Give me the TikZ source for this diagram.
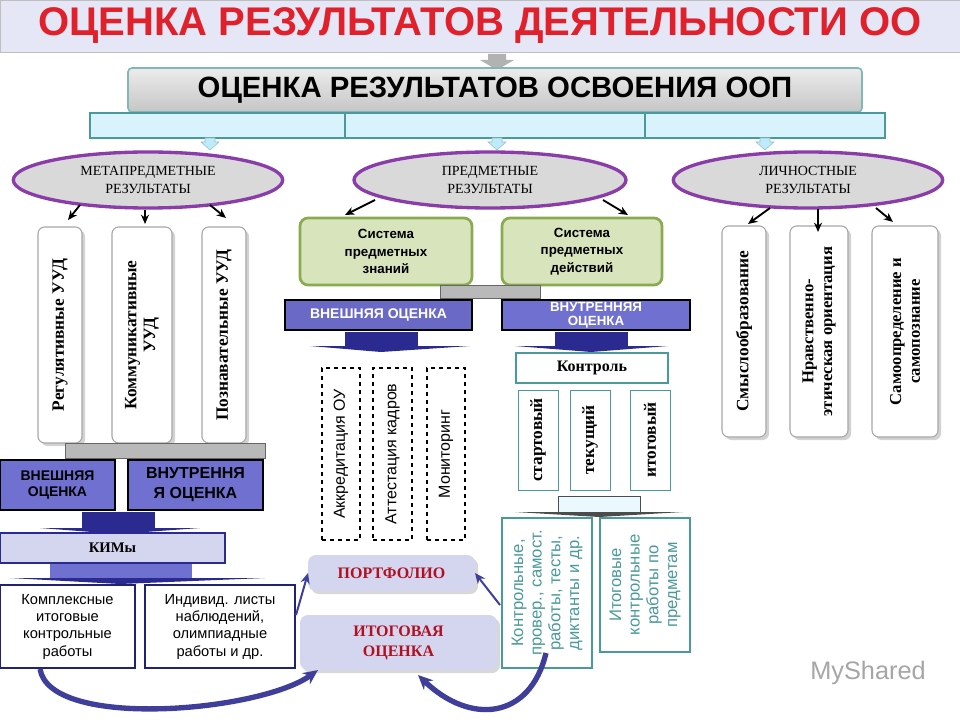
\documentclass[tikz,border=0pt]{standalone}
\usepackage{fontspec}
\setmainfont{Liberation Serif}
\newfontfamily\ar{Liberation Sans}
\usetikzlibrary{arrows.meta,shadows,shapes.geometric}
\definecolor{tred}{HTML}{E0202A}
\definecolor{tealb}{HTML}{4A9A9A}
\definecolor{midb}{HTML}{7070D0}
\definecolor{darkb}{HTML}{2A2A90}
\definecolor{lav}{HTML}{D4D6F0}
\definecolor{gfill}{HTML}{D8E4BC}
\definecolor{gedge}{HTML}{8AAA50}
\definecolor{purp}{HTML}{8A3DA8}
\definecolor{maroon}{HTML}{B01020}
\newcommand\bx[7]{\pgfmathsetmacro\bxcx{(#2+#4)/2}\pgfmathsetmacro\bxcy{(#3+#5)/2}\pgfmathsetmacro\bxw{(#4-#2)*0.75}\pgfmathsetmacro\bxh{(#5-#3)*0.75}\node[#6,minimum width=\bxw pt,minimum height=\bxh pt] (#1) at (\bxcx,\bxcy) {#7};}
\tikzset{
 base/.style={inner sep=0pt,outer sep=0pt,align=center},
 vtext/.style={rotate=90,align=center,inner sep=0pt,font=\bfseries\fontsize{13}{14}\selectfont},
 vbox/.style={base,draw=gray!70,fill=white,rounded corners=5pt,line width=0.8pt,drop shadow={opacity=0.35}},
 blu/.style={base,draw=black,fill=midb,line width=1pt,font=\ar\bfseries\fontsize{10.5}{12}\selectfont},
 dbar/.style={base,fill=darkb},
 gbar/.style={base,fill=gray!55,draw=black!60},
 wbox/.style={base,draw=darkb!80!black,fill=white,line width=1.5pt,font=\ar\fontsize{11}{13}\selectfont},
 gr/.style={base,draw=gedge,fill=gfill,line width=2pt,rounded corners=6pt,font=\ar\bfseries\fontsize{10}{13}\selectfont},
 ell/.style={ellipse,draw=purp,line width=2.5pt,fill=gray!30,inner sep=0pt,align=center,font=\fontsize{10.5}{13}\selectfont},
 dbox/.style={base,draw=black,dashed,line width=0.8pt},
 tbox/.style={base,draw=tealb,line width=0.6pt,fill=white},
 lavb/.style={base,fill=lav,rounded corners=6pt,drop shadow={opacity=0.3},font=\bfseries\fontsize{12}{15}\selectfont,text=maroon},
 ar1/.style={-{Stealth[length=7pt,width=6pt]},line width=1.4pt},
 ar3/.style={-{Stealth[length=8pt,width=7pt]},line width=1.5pt,draw=darkb!90},
 ar2/.style={-{Stealth[length=11pt,width=10pt]},line width=4pt,draw=darkb!90},
}
\begin{document}
\begin{tikzpicture}[x=0.75pt,y=-0.75pt]
\useasboundingbox (0,0) rectangle (960,720);
\fill[white] (0,0) rectangle (960,720);
\bx{title}{0}{0}{960}{52}{base,fill=lav!60,draw=gray!50,font=\ar\bfseries\fontsize{30}{32}\selectfont,text=tred}{ОЦЕНКА РЕЗУЛЬТАТОВ ДЕЯТЕЛЬНОСТИ ОО}
\fill[gray!60] (488,54) -- (506,54) -- (506,60) -- (514,60) -- (497,70) -- (480,60) -- (488,60) -- cycle;
\bx{oop}{128}{68}{862}{112}{base,draw=tealb!70,line width=1.2pt,top color=gray!15,bottom color=gray!45,rounded corners=3pt,font=\ar\bfseries\fontsize{22}{24}\selectfont}{ОЦЕНКА РЕЗУЛЬТАТОВ ОСВОЕНИЯ ООП}
\bx{bar}{90}{113}{885}{138}{base,draw=tealb,fill=cyan!15,line width=1pt}{}
\draw[tealb,line width=1pt] (345,113) -- (345,138) (645,113) -- (645,138);
\foreach \xx in {210,497,765}{\fill[cyan!25,draw=tealb!60] (\xx-5,138) -- (\xx+5,138) -- (\xx+5,142) -- (\xx+9,142) -- (\xx,150) -- (\xx-9,142) -- (\xx-5,142) -- cycle;}
\node[ell,minimum width=202pt,minimum height=42pt] (met) at (148,180) {МЕТАПРЕДМЕТНЫЕ\\РЕЗУЛЬТАТЫ};
\node[ell,minimum width=204pt,minimum height=42pt] (pre) at (490,180) {ПРЕДМЕТНЫЕ\\РЕЗУЛЬТАТЫ};
\node[ell,minimum width=202pt,minimum height=42pt] (lic) at (808,180) {ЛИЧНОСТНЫЕ\\РЕЗУЛЬТАТЫ};
% arrow coordinates
\coordinate (m1) at (80,205); \coordinate (m1e) at (68,220);
\coordinate (m2) at (145,210); \coordinate (m2e) at (145,224);
\coordinate (m3) at (210,205); \coordinate (m3e) at (226,218);
\coordinate (q1) at (375,200); \coordinate (q1e) at (345,215);
\coordinate (q2) at (603,200); \coordinate (q2e) at (628,215);
\coordinate (l1) at (770,208); \coordinate (l1e) at (748,224);
\coordinate (l2) at (818,209); \coordinate (l2e) at (818,232);
\coordinate (l3) at (876,208); \coordinate (l3e) at (893,222);
\bx{r1}{38}{227}{82}{443}{vbox}{}
\bx{r2}{112}{227}{172}{443}{vbox}{}
\bx{r3}{202}{227}{246}{443}{vbox}{}
\node[vtext] at (r1) {Регулятивные УУД};
\node[vtext] at (r2) {Коммуникативные\\УУД};
\node[vtext] at (r3) {Познавательные УУД};
\draw[ar1] (m1) -- (m1e);
\draw[ar1] (m2) -- (m2e);
\draw[ar1] (m3) -- (m3e);
\bx{gb1}{65}{443}{265}{458}{gbar}{}
\bx{vn1}{0}{460}{115}{510}{blu}{ВНЕШНЯЯ\\ОЦЕНКА}
\bx{vt1}{128}{460}{263}{510}{blu,font=\ar\bfseries\fontsize{12}{15}\selectfont}{ВНУТРЕННЯ\\Я ОЦЕНКА}
\bx{db1}{82}{512}{155}{528}{dbar}{}
\fill[darkb] (40,528) -- (200,528) -- (118,534) -- cycle;
\bx{kim}{0}{533}{225}{563}{base,fill=lav,draw=darkb,line width=1.5pt,font=\bfseries\fontsize{11}{13}\selectfont}{КИМы}
\bx{db2}{50}{564}{192}{578}{dbar,fill=midb}{}
\fill[darkb] (10,578) -- (265,578) -- (120,584) -- cycle;
\bx{kk}{0}{585}{135}{668}{wbox}{Комплексные\\итоговые\\контрольные\\работы}
\bx{il}{145}{585}{295}{668}{wbox}{Индивид. листы\\наблюдений,\\олимпиадные\\работы и др.}
\bx{g1}{300}{218}{472}{285}{gr}{Система\\предметных\\знаний}
\bx{g2}{502}{218}{662}{285}{gr}{Система\\предметных\\действий}
\draw[ar1] (q1) -- (q1e);
\draw[ar1] (q2) -- (q2e);
\bx{gb2}{440}{285}{540}{298}{gbar}{}
\bx{vn2}{285}{300}{472}{330}{blu,fill=midb!95!black,text=white}{ВНЕШНЯЯ ОЦЕНКА}
\bx{vt2}{502}{300}{690}{330}{blu,text=white,font=\ar\bfseries\fontsize{10}{10.5}\selectfont}{ВНУТРЕННЯЯ\\ОЦЕНКА}
\bx{db3}{345}{332}{418}{346}{dbar}{}
\fill[darkb] (310,346) -- (470,346) -- (381,352) -- cycle;
\bx{db4}{555}{332}{628}{346}{dbar}{}
\fill[darkb] (515,346) -- (668,346) -- (591,352) -- cycle;
\bx{d1}{322}{368}{360}{540}{dbox}{}
\bx{d2}{373}{368}{412}{540}{dbox}{}
\bx{d3}{427}{368}{465}{540}{dbox}{}
\node[vtext,font=\ar\fontsize{12}{13}\selectfont] at (d1) {Аккредитация ОУ};
\node[vtext,font=\ar\fontsize{12}{13}\selectfont] at (d2) {Аттестация кадров};
\node[vtext,font=\ar\fontsize{12}{13}\selectfont] at (d3) {Мониторинг};
\bx{kon}{516}{353}{668}{383}{base,draw=tealb,line width=2pt,fill=white,font=\bfseries\fontsize{12}{13}\selectfont}{Контроль}
\bx{s1}{518}{390}{558}{490}{tbox}{}
\bx{s2}{570}{390}{610}{490}{tbox}{}
\bx{s3}{630}{390}{670}{490}{tbox}{}
\node[vtext] at (s1) {стартовый};
\node[vtext] at (s2) {текущий};
\node[vtext] at (s3) {итоговый};
\bx{lb}{558}{496}{640}{512}{base,fill=cyan!8,draw=black!70}{}
\fill[black!70] (515,512) -- (683,512) -- (599,517) -- cycle;
\bx{k1}{502}{518}{592}{668}{base,draw=tealb,line width=2pt,fill=white}{}
\bx{k2}{600}{518}{690}{652}{base,draw=tealb,line width=2pt,fill=white}{}
\node[vtext,font=\ar\fontsize{12.5}{14}\selectfont,text=tealb] at (k1) {Контрольные,\\провер., самост.\\работы, тесты,\\диктанты и др.};
\node[vtext,font=\ar\fontsize{12.5}{14}\selectfont,text=tealb] at (k2) {Итоговые\\контрольные\\работы по\\предметам};
\bx{port}{308}{555}{475}{591}{lavb}{ПОРТФОЛИО}
\bx{itog}{300}{615}{497}{670}{lavb}{ИТОГОВАЯ\\ОЦЕНКА}
\coordinate (a1) at (296,615); \coordinate (a2) at (500,605);
\coordinate (c1) at (40,669); \coordinate (c1e) at (318,670);
\coordinate (c2) at (546,653); \coordinate (c2e) at (418,675);
\draw[ar3] (a1) -- (port.west);
\draw[ar3] (a2) -- (port.east);
\draw[ar2] (c1) .. controls (50,730) and (260,712) .. (c1e);
\draw[ar2] (c2) .. controls (530,720) and (470,725) .. (c2e);
\bx{p1}{722}{226}{766}{437}{vbox}{}
\bx{p2}{790}{226}{848}{437}{vbox}{}
\bx{p3}{872}{226}{938}{437}{vbox}{}
\node[vtext] at (p1) {Смыслообразование};
\node[vtext,font=\bfseries\fontsize{12.5}{14}\selectfont] at (p2) {Нравственно-\\этическая ориентация};
\node[vtext,font=\bfseries\fontsize{12.5}{14}\selectfont] at (p3) {Самоопределение и\\самопознание};
\draw[ar1] (l1) -- (l1e);
\draw[ar1] (l2) -- (l2e);
\draw[ar1] (l3) -- (l3e);
\node[inner sep=0pt,text=gray!70,font=\ar\fontsize{19}{20}\selectfont] (ms) at (868,673) {MyShared};
\end{tikzpicture}
\end{document}
